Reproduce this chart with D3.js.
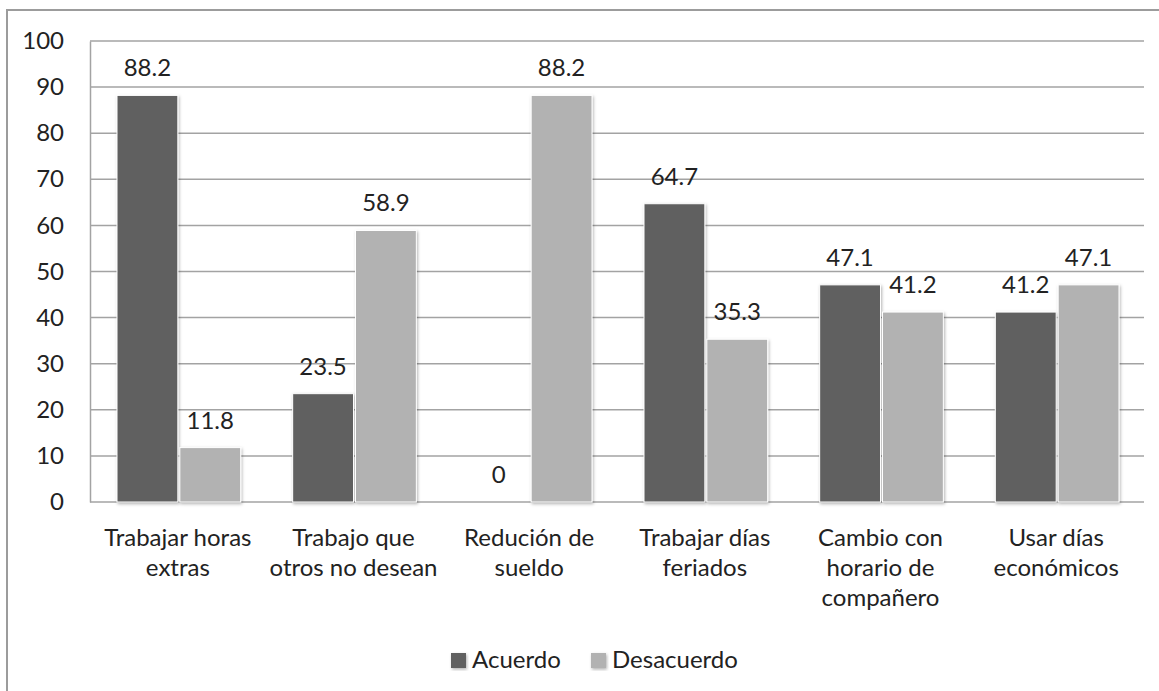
<!DOCTYPE html>
<html>
<head>
<meta charset="utf-8">
<script src="https://cdn.jsdelivr.net/npm/d3@7"></script>
<style>
  html, body { margin: 0; padding: 0; background: #fff; }
  svg { display: block; }
  text { font-family: Lato, "Open Sans", sans-serif; fill: #222; }
</style>
</head>
<body>
<svg id="chart" width="1159" height="691"></svg>
<script>
// Survey answers per situation (percent)
const categories = [
  "Trabajar horas extras",
  "Trabajo que otros no desean",
  "Redución de sueldo",
  "Trabajar días feriados",
  "Cambio con horario de compañero",
  "Usar días económicos"
];
const categoryLines = [
  ["Trabajar horas", "extras"],
  ["Trabajo que", "otros no desean"],
  ["Redución de", "sueldo"],
  ["Trabajar días", "feriados"],
  ["Cambio con", "horario de", "compañero"],
  ["Usar días", "económicos"]
];
const seriesNames = ["Acuerdo", "Desacuerdo"];
const acuerdo = [88.2, 23.5, 0, 64.7, 47.1, 41.2];
const desacuerdo = [11.8, 58.9, 88.2, 35.3, 41.2, 47.1];
const yTicks = [0, 10, 20, 30, 40, 50, 60, 70, 80, 90, 100];
const seriesColors = ["#606060", "#b2b2b2"];

const series = [acuerdo, desacuerdo];
const fontSize = 24;

const svg = d3.select("#chart");

// drop shadow for the bars
const defs = svg.append("defs");
const f = defs.append("filter").attr("id", "shadow")
  .attr("x", "-20%").attr("y", "-20%").attr("width", "140%").attr("height", "140%");
f.append("feDropShadow").attr("dx", 1).attr("dy", 1.5)
  .attr("stdDeviation", 1.6).attr("flood-color", "#000").attr("flood-opacity", 0.3);

// outer chart frame
svg.append("rect")
  .attr("x", 7).attr("y", 10).attr("width", 1170).attr("height", 700)
  .attr("fill", "none").attr("stroke", "#9c9c9c").attr("stroke-width", 2);

const plot = { left: 90, right: 1144, top: 41, bottom: 502 };

const x0 = d3.scaleBand().domain(categories).range([plot.left, plot.right]).padding(0);
const x1 = d3.scaleBand().domain(seriesNames).range([26, x0.bandwidth() - 24]).padding(0);
const y = d3.scaleLinear().domain([0, 100]).range([plot.bottom, plot.top]);

// gridlines
svg.append("g").selectAll("line").data(yTicks.filter(t => t > 0)).join("line")
  .attr("x1", plot.left).attr("x2", plot.right)
  .attr("y1", d => y(d)).attr("y2", d => y(d))
  .attr("stroke", "#a3a3a3").attr("stroke-width", 1.5);

// y axis
const yAxis = d3.axisLeft(y).tickValues(yTicks).tickSize(0).tickPadding(26);
const gy = svg.append("g").attr("transform", `translate(${plot.left},0)`).call(yAxis);
gy.select(".domain").attr("stroke", "#a3a3a3").attr("stroke-width", 1.5);
gy.selectAll("text").style("font-size", fontSize + "px").attr("fill", "#222")
  .attr("font-family", null);

// baseline
svg.append("line")
  .attr("x1", plot.left).attr("x2", plot.right)
  .attr("y1", y(0)).attr("y2", y(0))
  .attr("stroke", "#a3a3a3").attr("stroke-width", 1.5);

// bars
const groups = svg.append("g").selectAll("g").data(categories).join("g")
  .attr("transform", d => `translate(${x0(d)},0)`);

const gap = 2;
groups.selectAll("rect")
  .data((c, i) => seriesNames.map((s, k) => ({ s, k, v: series[k][i] })))
  .join("rect")
  .filter(d => d.v > 0)
  .attr("x", d => x1(d.s) + gap / 2)
  .attr("width", x1.bandwidth() - gap)
  .attr("y", d => y(d.v))
  .attr("height", d => y(0) - y(d.v))
  .attr("fill", d => seriesColors[d.k])
  .attr("stroke", "#fff").attr("stroke-width", 1)
  .attr("filter", "url(#shadow)");

// value labels
groups.selectAll("text.val")
  .data((c, i) => seriesNames.map((s, k) => ({ s, k, v: series[k][i] })))
  .join("text").attr("class", "val")
  .attr("x", d => x1(d.s) + x1.bandwidth() / 2)
  .attr("y", d => y(d.v) - 19)
  .attr("text-anchor", "middle")
  .style("font-size", fontSize + "px")
  .text(d => d.v);

// category labels
categories.forEach((c, i) => {
  const t = svg.append("text")
    .attr("x", x0(c) + x0.bandwidth() / 2)
    .attr("y", 546)
    .attr("text-anchor", "middle")
    .style("font-size", fontSize + "px");
  categoryLines[i].forEach((line, j) => {
    t.append("tspan").attr("x", x0(c) + x0.bandwidth() / 2)
      .attr("dy", j === 0 ? 0 : 30).text(line);
  });
});

// legend
const legendItems = [
  { name: seriesNames[0], color: seriesColors[0], x: 451 },
  { name: seriesNames[1], color: seriesColors[1], x: 591 }
];
const lg = svg.append("g");
legendItems.forEach(it => {
  lg.append("rect").attr("x", it.x).attr("y", 653).attr("width", 15).attr("height", 15)
    .attr("fill", it.color).attr("filter", "url(#shadow)");
  lg.append("text").attr("x", it.x + 21).attr("y", 668)
    .style("font-size", fontSize + "px").text(it.name);
});
</script>
</body>
</html>
